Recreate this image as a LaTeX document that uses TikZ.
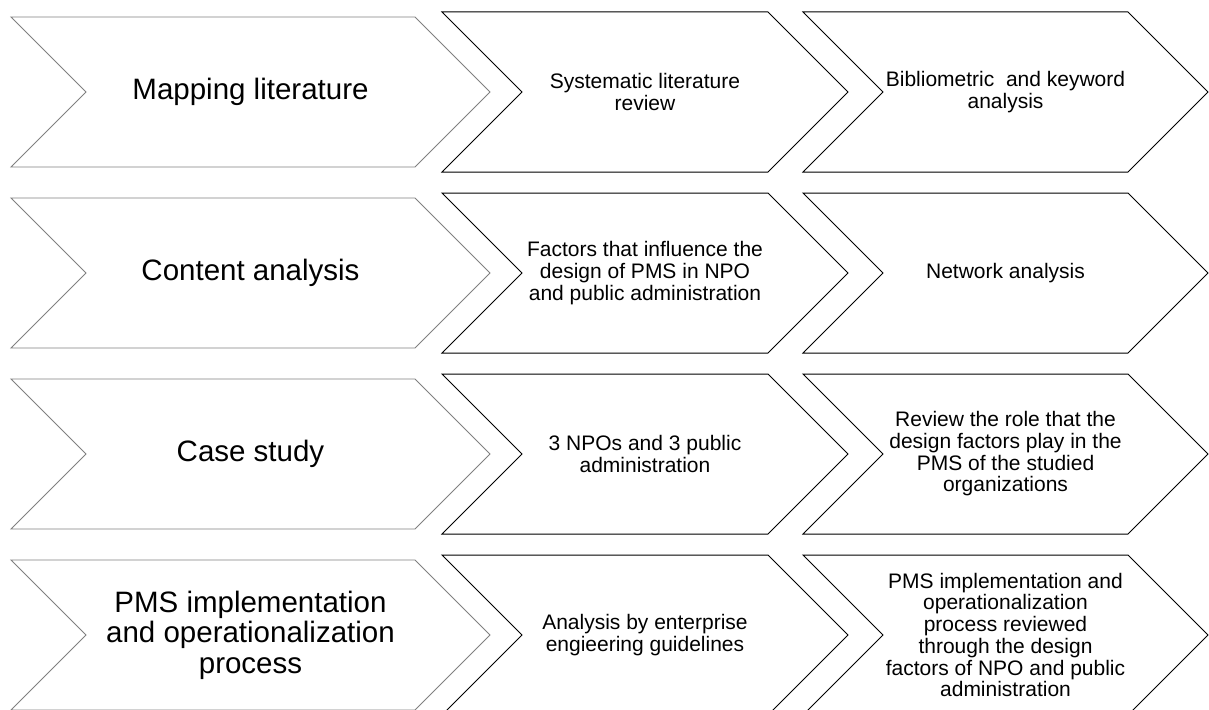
\documentclass[tikz,border=0pt]{standalone}
\usepackage{fontspec}
\setmainfont{Liberation Sans}
\begin{document}
\begin{tikzpicture}[x=1pt,y=-1pt,
  leadchev/.style={draw=black!50, line width=0.9pt, fill=white, line join=miter},
  stepchev/.style={draw=black, line width=1pt, fill=white, line join=miter},
  bigtxt/.style={font=\fontsize{29.5}{30.6}\selectfont, align=center, inner sep=0pt},
  smalltxt/.style={font=\fontsize{21}{21.7}\selectfont, align=center, inner sep=0pt}]
\useasboundingbox (0,0) rectangle (1209,709);
\clip (0,0) rectangle (1209,709);

% chevron outline: style, left x, tip x, centre y, half height
\newcommand\chevshape[5]{%
  \draw[#1] (#2,#4-#5) -- (#3-#5,#4-#5) -- (#3,#4) -- (#3-#5,#4+#5)
    -- (#2,#4+#5) -- (#2+#5,#4) -- cycle;}

\foreach \yc in {92,273,454,635}{
  \chevshape{leadchev}{11}{490}{\yc}{75}
  \chevshape{stepchev}{442}{848}{\yc}{80}
  \chevshape{stepchev}{803}{1208}{\yc}{80}
}

% row 1
\node[bigtxt]   (map)  at (250.5,92) {Mapping literature};
\node[smalltxt] (slr)  at (645,92)   {Systematic literature\\review};
\node[smalltxt] (bib)  at (1005.5,92) {Bibliometric\ \ and keyword\\analysis};
% row 2
\node[bigtxt]   (cont) at (250.5,273) {Content analysis};
\node[smalltxt] (fact) at (645,273)   {Factors that influence the\\design of PMS in NPO\\and public administration};
\node[smalltxt] (net)  at (1005.5,273) {Network analysis};
% row 3
\node[bigtxt]   (case) at (250.5,454) {Case study};
\node[smalltxt] (npos) at (645,454)   {3 NPOs and 3 public\\administration};
\node[smalltxt] (role) at (1005.5,454) {Review the role that the\\design factors play in the\\PMS of the studied\\organizations};
% row 4
\node[bigtxt]   (impl) at (250.5,635) {PMS implementation\\and operationalization\\process};
\node[smalltxt] (eeg)  at (645,635)   {Analysis by enterprise\\engieering guidelines};
\node[smalltxt] (rev)  at (1005.5,635) {PMS implementation and\\operationalization\\process reviewed\\through the design\\factors of NPO and public\\administration};
\end{tikzpicture}
\end{document}
